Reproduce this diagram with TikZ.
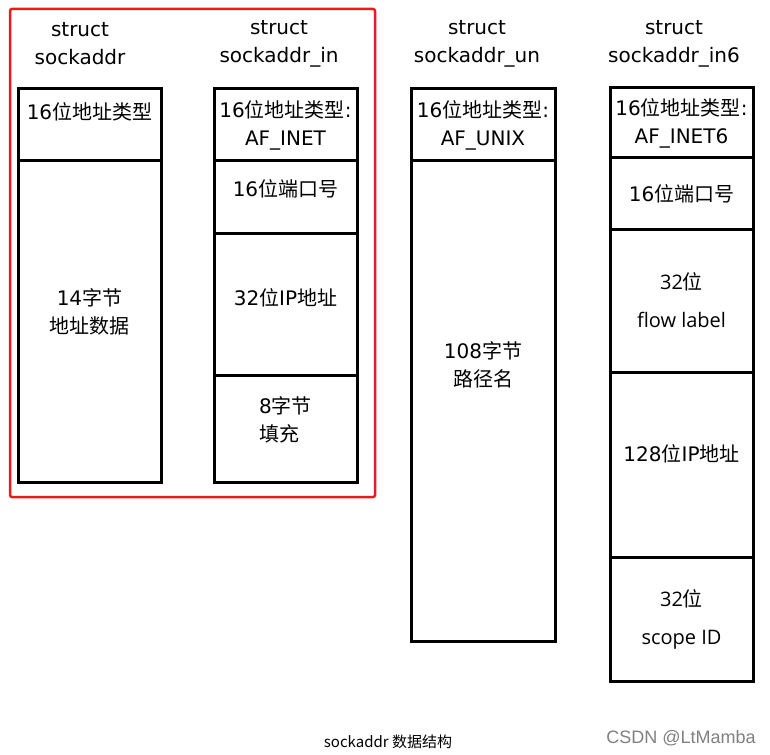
\documentclass[tikz,border=0pt]{standalone}
\usepackage{fontspec}
\setmainfont{DejaVu Sans}
\newfontfamily\cjk{Noto Sans CJK SC}
\newfontfamily\osans{Open Sans}
\newfontfamily\wmark{Liberation Sans}
\usetikzlibrary{positioning}
\newcommand{\zh}[1]{{\cjk #1}}
\definecolor{framered}{RGB}{232,28,28}
\tikzset{
  field/.style={draw, line width=3pt, outer sep=0pt, inner sep=0pt,
    minimum width=143pt, align=center, font=\fontsize{20}{28}\selectfont},
  title/.style={align=center, font=\fontsize{20}{28}\selectfont},
}
\begin{document}
\begin{tikzpicture}[x=1pt,y=-1pt]
\useasboundingbox (0,0) rectangle (770,754);
% red frame round the first two structs
\draw[framered, line width=2.5pt, rounded corners=2pt] (10,9) rectangle (375,497);

% struct sockaddr
\node[title] (sa) at (80,44) {struct\\sockaddr};
\node[field, minimum height=72pt, anchor=north west] (sa-fam) at (18,89) {16\zh{位地址类型}\\\mbox{}};
\node[field, minimum height=321pt, below=0pt of sa-fam] (sa-data) {14\zh{字节}\\\zh{地址数据}\\[-8pt]\mbox{}};

% struct sockaddr_in
\node[title] (sin) at (279,44) {struct\\sockaddr\_in};
\node[field, minimum height=72pt, anchor=north west] (sin-fam) at (214,89) {16\zh{位地址类型}:\\AF\_INET};
\node[field, minimum height=72pt, below=0pt of sin-fam] (sin-port) {16\zh{位端口号}\\[-10pt]\mbox{}};
\node[field, minimum height=142pt, below=0pt of sin-port] (sin-addr) {32\zh{位}IP\zh{地址}\\[-14pt]\mbox{}};
\node[field, minimum height=107pt, below=0pt of sin-addr, align=left] (sin-zero) {8\zh{字节}\\\zh{填充}\\[-10pt]\mbox{}};

% struct sockaddr_un
\node[title] (sun) at (477,44) {struct\\sockaddr\_un};
\node[field, minimum width=144pt, minimum height=72pt, anchor=north west] (sun-fam) at (411,89) {16\zh{位地址类型}:\\AF\_UNIX};
\node[field, minimum width=144pt, minimum height=480pt, below=0pt of sun-fam] (sun-path) {108\zh{字节}\\\zh{路径名}\\[46pt]\mbox{}};

% struct sockaddr_in6
\node[title] (sin6) at (674,44) {struct\\sockaddr\_in6};
\node[field, minimum height=70pt, anchor=north west] (sin6-fam) at (610,88) {16\zh{位地址类型}:\\AF\_INET6};
\node[field, minimum height=71pt, below=0pt of sin6-fam] (sin6-port) {16\zh{位端口号}};
\node[field, minimum height=143pt, below=0pt of sin6-port] (sin6-flow) {{\osans 32}\zh{位}\\[10pt]{\osans flow label}};
\node[field, minimum height=185pt, below=0pt of sin6-flow] (sin6-addr) {128\zh{位}IP\zh{地址}\\[-6pt]\mbox{}};
\node[field, minimum height=124pt, below=0pt of sin6-addr] (sin6-scope) {{\osans 32}\zh{位}\\[10pt]{\osans scope ID}};

% caption and mark
\node[font=\cjk\fontsize{15}{18}\selectfont] (cap) at (388,742) {sockaddr 数据结构};
\node[font=\wmark\fontsize{18}{20}\selectfont, text=gray] (csdn) at (681,738) {CSDN @LtMamba};
\end{tikzpicture}
\end{document}
